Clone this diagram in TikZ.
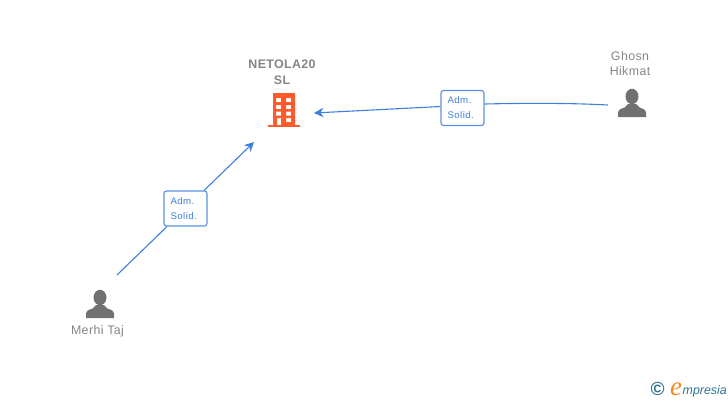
\documentclass[tikz,border=0pt]{standalone}
\usepackage{fontspec}
\setmainfont{Liberation Sans}
\newfontfamily\logofont{Liberation Serif}
\usetikzlibrary{arrows.meta,backgrounds}
\definecolor{linkblue}{HTML}{3C7FDF}
\definecolor{boxblue}{HTML}{5A93E0}
\definecolor{labelgray}{HTML}{858585}
\definecolor{icongray}{HTML}{717171}
\definecolor{towerred}{HTML}{FF5A2C}
\definecolor{logoteal}{HTML}{2F7391}
\definecolor{logoorange}{HTML}{F08A1E}
\tikzset{
  link/.style={linkblue, line width=1.1pt},
  tip/.style={-{Stealth[length=9.5pt,width=9.5pt]}},
  rolebox/.style={draw=boxblue, fill=white, rounded corners=2.5pt, line width=1.1pt, minimum width=43pt, minimum height=35pt, inner sep=0pt, text width=30pt, align=left, text=linkblue, font=\fontsize{9.6}{15}\selectfont\addfontfeatures{LetterSpace=5}},
  who/.style={text=labelgray, align=center, inner sep=0pt, font=\fontsize{12.4}{15.5}\selectfont\addfontfeatures{LetterSpace=3}},
  firm/.style={who, font=\fontsize{12.4}{15.5}\selectfont\bfseries\addfontfeatures{LetterSpace=3}},
  person/.pic={
    \fill[icongray] (0,7.5) ellipse (6.5 and 7.7);
    \fill[icongray] (-14,28) -- (-14,23) .. controls (-14,20.5) and (-11,20) .. (-7.5,18.5)
      -- (-4,15) -- (4,15) -- (7.5,18.5) .. controls (11,20) and (14,20.5) .. (14,23) -- (14,28) -- cycle;
  },
  tower/.pic={
    \fill[towerred, even odd rule] (-11,0) rectangle (11,32)
      (-8,5) rectangle (-3,9) (2,5) rectangle (7,9)
      (-8,12) rectangle (-3,16) (2,12) rectangle (7,16)
      (-8,18.5) rectangle (-3,22.5) (2,18.5) rectangle (7,22.5)
      (-7,25) rectangle (-3,32) (2,25) rectangle (7,29);
    \fill[towerred] (-16,32) rectangle (16,34);
  }
}

\begin{document}
\begin{tikzpicture}[x=1pt,y=-1pt]
   \useasboundingbox (0,0) rectangle (728,400);
   \pic at (284,93) {tower};
   \pic at (632,89) {person};
   \pic at (100,290) {person};
   \node[firm] (netola) at (282,72) {NETOLA20\\SL};
   \node[who] (ghosn) at (630,63.5) {Ghosn\\Hikmat};
   \node[who] (merhi) at (97.5,331.5) {Merhi Taj};
   \coordinate (netolaright) at (314,113);
   \coordinate (netolaleft) at (254,142);
   \coordinate (ghosnend) at (608,105);
   \coordinate (merhiend) at (117,275);
   \node[rolebox] (admB) at (462.5,108) {Adm.\\Solid.};
   \node[rolebox] (admA) at (185.5,208.5) {Adm.\\Solid.};
   \begin{scope}[on background layer]
    \draw[link] (ghosnend) .. controls (570,103) and (530,103) .. ([yshift=4pt]admB.east);
    \draw[link,tip] ([yshift=1.5pt]admB.west) -- (netolaright);
    \draw[link] (merhiend) -- (admA);
    \draw[link,tip] (admA) -- (netolaleft);
   \end{scope}
   % logo
   \node[inner sep=0pt, text=logoteal, font=\fontsize{19}{19}\selectfont\bfseries] (copyr) at (657.5,389) {©};
   \node[inner sep=0pt, anchor=base west, text=logoorange, font=\logofont\itshape\fontsize{27}{27}\selectfont] (logoe) at (670,395) {e};
   \node[inner sep=0pt, anchor=base west, text=logoteal, font=\itshape\fontsize{12.4}{12.4}\selectfont] (logotext) at (682.5,394) {mpresia};
\end{tikzpicture}
\end{document}
